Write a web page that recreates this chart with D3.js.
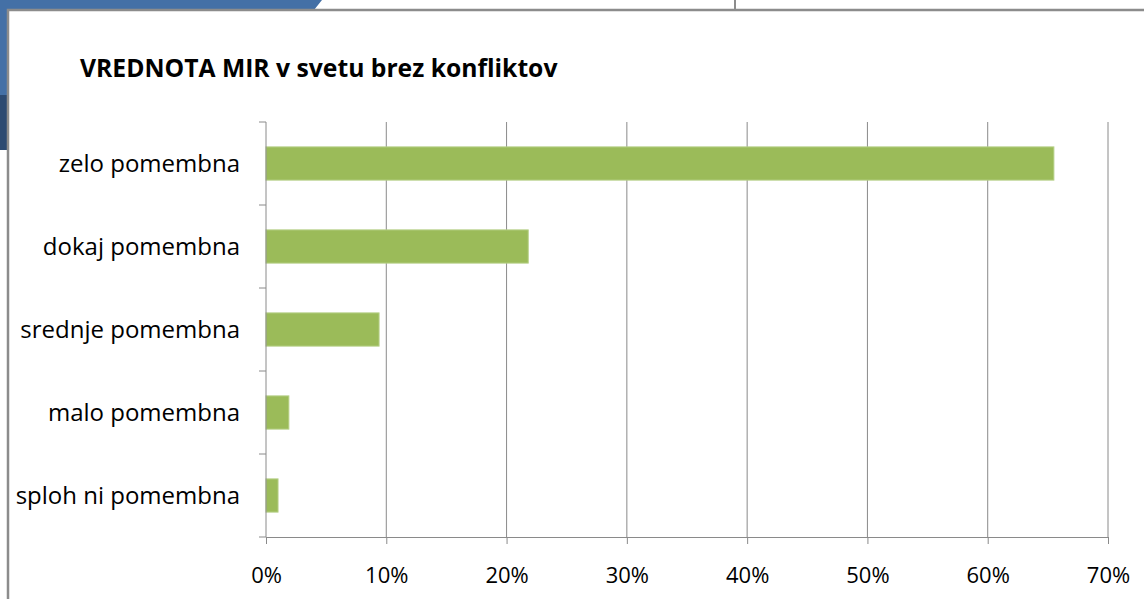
<!DOCTYPE html>
<html>
<head>
<meta charset="utf-8">
<script src="https://cdn.jsdelivr.net/npm/d3@7"></script>
<style>
  body { margin: 0; background: #fff; }
  svg { display: block; }
</style>
</head>
<body>
<div id="chart"></div>
<script>
// podatki
var categories = ["zelo pomembna", "dokaj pomembna", "srednje pomembna", "malo pomembna", "sploh ni pomembna"];
var values = [65.5, 21.8, 9.4, 1.9, 1.0];
var ticks = [0, 10, 20, 30, 40, 50, 60, 70];
var title = "VREDNOTA MIR v svetu brez konfliktov";

var W = 1144, H = 599;
var svg = d3.select("#chart").append("svg")
	.attr("width", W)
	.attr("height", H);

// ozadje (modro okno zadaj)
svg.append("path")
	.attr("d", "M0,0 L322,0 L314,10 L8,10 L8,150 L0,150 Z")
	.attr("fill", "#4470a6");
svg.append("rect")
	.attr("x", 0).attr("y", 95).attr("width", 8).attr("height", 55)
	.attr("fill", "#2c4a72");
svg.append("line")
	.attr("x1", 735).attr("y1", 0).attr("x2", 735).attr("y2", 10)
	.attr("stroke", "#8c8c8c").attr("stroke-width", 2);

// okvir grafa
svg.append("path")
	.attr("d", "M8,599 L8,10 L1144,10")
	.attr("fill", "none")
	.attr("stroke", "#8c8c8c")
	.attr("stroke-width", 2.5);

// naslov
svg.append("text")
	.attr("x", 80)
	.attr("y", 77)
	.attr("font-family", "Open Sans, sans-serif")
	.attr("font-weight", "bold")
	.attr("font-size", 24.7)
	.attr("fill", "#000")
	.text(title);

var pLeft = 266, pRight = 1108, pTop = 122, pBottom = 537;

var x = d3.scaleLinear()
	.domain([0, 70])
	.range([pLeft, pRight]);

var y = d3.scaleBand()
	.domain(categories)
	.range([pTop, pBottom])
	.paddingInner(0.6)
	.paddingOuter(0.3);

// mreza
svg.selectAll(".grid")
	.data(ticks.slice(1))
	.enter()
	.append("line")
		.attr("x1", function(d){ return x(d); })
		.attr("x2", function(d){ return x(d); })
		.attr("y1", pTop)
		.attr("y2", pBottom)
		.attr("stroke", "#8a8a8a")
		.attr("stroke-width", 1);

// stolpci
svg.selectAll(".bar")
	.data(values)
	.enter()
	.append("rect")
		.attr("x", x(0))
		.attr("y", function(d, i){ return y(categories[i]); })
		.attr("width", function(d){ return x(d) - x(0); })
		.attr("height", y.bandwidth())
		.attr("fill", "#9bbb59")
		.attr("stroke", "#b5cf86")
		.attr("stroke-width", 1);

// os x
var xAxis = d3.axisBottom(x)
	.tickValues(ticks)
	.tickSize(7)
	.tickFormat(function(d){ return d + "%"; });

var gx = svg.append("g")
	.attr("transform", "translate(0," + pBottom + ")")
	.call(xAxis);
gx.select(".domain").attr("stroke", "#8a8a8a");
gx.selectAll(".tick line").attr("stroke", "#8a8a8a");
gx.selectAll(".tick text")
	.attr("y", 30)
	.attr("dy", "0.71em")
	.attr("font-family", "Open Sans, sans-serif")
	.attr("font-size", 22)
	.attr("fill", "#000");

// os y
var bounds = [];
y.domain().forEach(function(c, i){
	bounds.push(pTop + i * (pBottom - pTop) / categories.length);
});
bounds.push(pBottom);

svg.append("line")
	.attr("x1", pLeft).attr("x2", pLeft)
	.attr("y1", pTop).attr("y2", pBottom)
	.attr("stroke", "#8a8a8a");
svg.selectAll(".ytick")
	.data(bounds)
	.enter()
	.append("line")
		.attr("x1", pLeft - 7)
		.attr("x2", pLeft)
		.attr("y1", function(d){ return d; })
		.attr("y2", function(d){ return d; })
		.attr("stroke", "#8a8a8a");

svg.selectAll(".ylab")
	.data(categories)
	.enter()
	.append("text")
		.attr("x", 240)
		.attr("y", function(d){ return y(d) + y.bandwidth() / 2; })
		.attr("dy", "0.35em")
		.attr("text-anchor", "end")
		.attr("font-family", "Open Sans, sans-serif")
		.attr("font-size", 24)
		.attr("fill", "#000")
		.text(function(d){ return d; });
</script>
</body>
</html>
